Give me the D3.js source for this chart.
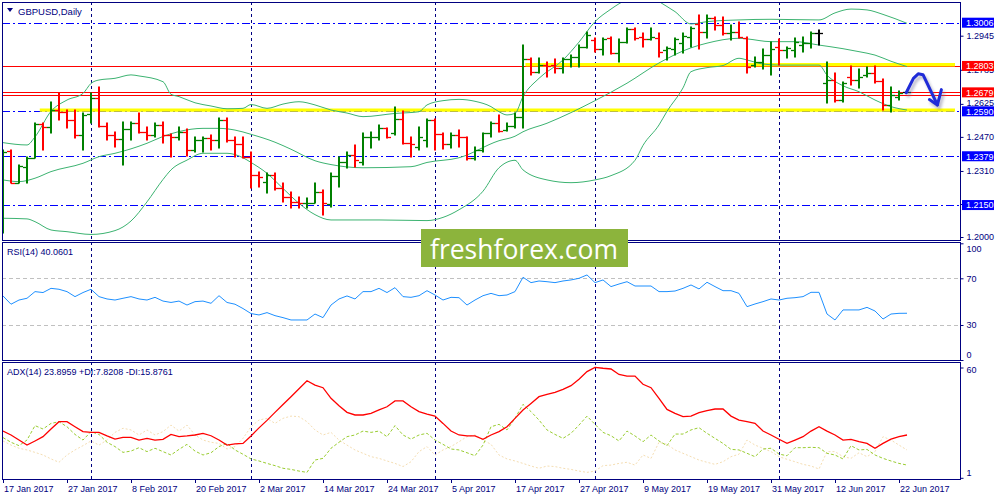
<!DOCTYPE html>
<html>
<head>
<meta charset="utf-8">
<script src="https://cdn.jsdelivr.net/npm/d3@7"></script>
<style>
  body { margin: 0; background: #fff; }
  svg { display: block; }
  text { font-family: "Liberation Sans", Arial, sans-serif; }
</style>
</head>
<body>
<div id="chart"></div>
<script>
// ---- price bars (daily, 17 Jan 2017 .. 23 Jun 2017) ----
const open = [
  1.2033,1.2405,1.2255,1.2330,1.2369,1.2530,1.2515,1.2596,1.2588,1.2549,
  1.2479,1.2576,1.2651,1.2521,1.2479,1.2459,1.2507,1.2534,1.2494,1.2479,
  1.2526,1.2479,1.2471,1.2494,1.2408,1.2455,1.2463,1.2455,1.2549,1.2455,
  1.2437,1.2377,1.2291,1.2260,1.2291,1.2228,1.2189,1.2166,1.2158,1.2161,
  1.2213,1.2155,1.2286,1.2354,1.2385,1.2354,1.2468,1.2471,1.2510,1.2487,
  1.2554,1.2443,1.2424,1.2455,1.2549,1.2484,1.2437,1.2479,1.2468,1.2369,
  1.2408,1.2487,1.2534,1.2502,1.2521,1.2562,1.2834,1.2776,1.2807,1.2807,
  1.2792,1.2834,1.2843,1.2894,1.2925,1.2881,1.2933,1.2865,1.2917,1.2975,
  1.2940,1.2928,1.2933,1.2878,1.2881,1.2909,1.2940,1.3001,1.2964,1.3027,
  1.2995,1.2956,1.2964,1.2933,1.2807,1.2823,1.2854,1.2894,1.2878,1.2878,
  1.2901,1.2909,1.2956,1.2724,1.2737,1.2643,1.2750,1.2737,1.2761,1.2768,
  1.2734,1.2620,1.2659,1.2679];
const high = [
  1.2408,1.2408,1.2338,1.2374,1.2534,1.2537,1.2632,1.2674,1.2596,1.2596,
  1.2580,1.2674,1.2703,1.2534,1.2494,1.2541,1.2541,1.2580,1.2518,1.2534,
  1.2541,1.2482,1.2518,1.2505,1.2471,1.2471,1.2479,1.2557,1.2557,1.2471,
  1.2468,1.2401,1.2307,1.2299,1.2299,1.2252,1.2213,1.2189,1.2182,1.2252,
  1.2221,1.2299,1.2377,1.2401,1.2432,1.2487,1.2494,1.2526,1.2513,1.2609,
  1.2593,1.2471,1.2518,1.2552,1.2552,1.2490,1.2490,1.2502,1.2471,1.2424,
  1.2490,1.2541,1.2573,1.2534,1.2580,1.2901,1.2839,1.2839,1.2823,1.2834,
  1.2839,1.2854,1.2901,1.2961,1.2933,1.2933,1.2937,1.2928,1.2980,1.2980,
  1.2956,1.2980,1.2956,1.2894,1.2933,1.2956,1.2987,1.3042,1.3042,1.3034,
  1.3034,1.2995,1.3011,1.2940,1.2847,1.2881,1.2917,1.2928,1.2894,1.2933,
  1.2940,1.2964,1.2972,1.2823,1.2768,1.2729,1.2803,1.2787,1.2799,1.2803,
  1.2740,1.2703,1.2687,1.2679];
const low = [
  1.2017,1.2252,1.2252,1.2252,1.2369,1.2408,1.2487,1.2549,1.2510,1.2463,
  1.2408,1.2534,1.2518,1.2455,1.2424,1.2338,1.2455,1.2487,1.2455,1.2471,
  1.2440,1.2377,1.2455,1.2380,1.2401,1.2401,1.2408,1.2416,1.2448,1.2377,
  1.2369,1.2228,1.2236,1.2205,1.2221,1.2166,1.2135,1.2135,1.2135,1.2158,
  1.2103,1.2142,1.2236,1.2322,1.2330,1.2338,1.2416,1.2455,1.2463,1.2479,
  1.2437,1.2377,1.2408,1.2424,1.2408,1.2412,1.2416,1.2424,1.2361,1.2361,
  1.2401,1.2471,1.2494,1.2499,1.2510,1.2510,1.2761,1.2768,1.2750,1.2768,
  1.2768,1.2800,1.2800,1.2886,1.2870,1.2854,1.2859,1.2823,1.2909,1.2925,
  1.2894,1.2925,1.2847,1.2831,1.2854,1.2862,1.2894,1.2881,1.2933,1.2972,
  1.2948,1.2925,1.2933,1.2768,1.2800,1.2787,1.2761,1.2807,1.2839,1.2847,
  1.2870,1.2886,1.2901,1.2628,1.2635,1.2635,1.2714,1.2698,1.2753,1.2721,
  1.2596,1.2588,1.2643,1.2679];
const close = [
  1.2401,1.2255,1.2335,1.2369,1.2530,1.2515,1.2596,1.2588,1.2549,1.2479,
  1.2573,1.2651,1.2521,1.2479,1.2459,1.2507,1.2534,1.2494,1.2479,1.2526,
  1.2479,1.2471,1.2494,1.2408,1.2455,1.2463,1.2455,1.2549,1.2455,1.2437,
  1.2377,1.2291,1.2283,1.2291,1.2228,1.2189,1.2166,1.2158,1.2161,1.2213,
  1.2158,1.2286,1.2354,1.2385,1.2361,1.2471,1.2471,1.2510,1.2471,1.2554,
  1.2443,1.2437,1.2471,1.2549,1.2484,1.2437,1.2479,1.2468,1.2369,1.2408,
  1.2487,1.2534,1.2499,1.2521,1.2562,1.2834,1.2776,1.2807,1.2803,1.2792,
  1.2834,1.2843,1.2894,1.2948,1.2881,1.2928,1.2865,1.2917,1.2975,1.2933,
  1.2928,1.2937,1.2870,1.2886,1.2928,1.2944,1.2980,1.2964,1.3027,1.2995,
  1.2956,1.2964,1.2937,1.2800,1.2823,1.2854,1.2881,1.2878,1.2886,1.2917,
  1.2909,1.2956,1.2956,1.2737,1.2643,1.2724,1.2737,1.2750,1.2768,1.2734,
  1.2620,1.2667,1.2677,1.2679];

// ---- Bollinger bands, read at [bar index, price] ----
const bbUpper = [[0,1.2443],[3,1.2432],[4,1.2470],[6,1.2590],[8,1.2643],[10,1.2674],[11,1.2721],[12,1.2737],[14,1.2745],[16,1.2761],[17,1.2756],[20,1.2729],[21,1.2670],[22,1.2659],[24,1.2630],[26,1.2615],[28,1.2602],[30,1.2604],[31,1.2622],[33,1.2604],[35,1.2624],[37,1.2635],[39,1.2620],[41,1.2596],[43,1.2582],[45,1.2565],[49,1.2580],[52,1.2588],[53,1.2620],[55,1.2640],[57,1.2646],[59,1.2637],[61,1.2612],[62,1.2588],[63,1.2573],[64,1.2580],[65,1.2659],[67,1.2745],[70,1.2831],[72,1.2915],[74,1.3011],[76,1.3070],[77,1.3095],[79,1.3130],[80,1.3140],[81,1.3130],[82,1.3105],[84,1.3058],[86,1.3000],[88,1.3011],[92,1.3019],[96,1.3022],[102,1.3019],[104,1.3052],[106,1.3070],[108,1.3066],[110,1.3045],[113,1.3003]];
const bbMiddle = [[0,1.2268],[2,1.2260],[4,1.2276],[6,1.2307],[10,1.2346],[12,1.2377],[14,1.2393],[18,1.2440],[20,1.2472],[22,1.2495],[25,1.2510],[27,1.2510],[29,1.2502],[31,1.2482],[34,1.2445],[36,1.2412],[39,1.2358],[41,1.2340],[45,1.2325],[51,1.2330],[53,1.2350],[57,1.2372],[62,1.2452],[64,1.2473],[65,1.2494],[68,1.2534],[71,1.2584],[74,1.2640],[78,1.2722],[82,1.2817],[86,1.2888],[88,1.2910],[92,1.2933],[93,1.2930],[96,1.2917],[99,1.2917],[102,1.2901],[105,1.2884],[107,1.2870],[109,1.2854],[111,1.2825],[113,1.2800]];
const bbLower = [[0,1.2088],[3,1.2085],[4,1.2072],[6,1.2033],[8,1.2025],[11,1.2012],[14,1.2030],[16,1.2075],[18,1.2165],[20,1.2270],[21,1.2315],[23,1.2361],[25,1.2393],[28,1.2393],[30,1.2372],[31,1.2350],[33,1.2299],[35,1.2228],[37,1.2158],[39,1.2105],[41,1.2080],[47,1.2080],[53,1.2077],[55,1.2092],[57,1.2128],[60,1.2215],[62,1.2325],[64,1.2360],[65,1.2315],[68,1.2268],[71,1.2255],[74,1.2268],[76,1.2288],[79,1.2360],[80,1.2430],[82,1.2526],[83,1.2590],[85,1.2700],[86,1.2776],[88,1.2795],[90,1.2805],[92,1.2839],[93,1.2831],[95,1.2812],[97,1.2807],[102,1.2807],[103,1.2760],[105,1.2710],[107,1.2682],[109,1.2643],[111,1.2612],[113,1.2596]];

// ---- indicators, one value per bar ----
const rsi = [
  54.9,47.8,51.4,52.9,58.6,57.8,61.4,60.6,58.6,54.3,
  57.8,60.6,54.3,52.3,51.4,52.9,54.3,52.3,51.4,53.7,
  50.5,49.3,50.5,47.1,50.0,50.5,48.6,55.1,49.3,47.8,
  44.1,39.8,38.6,40.6,38.0,36.3,34.3,34.3,34.3,39.4,
  36.3,47.1,52.3,54.9,52.3,58.6,58.6,61.4,57.8,62.0,
  54.3,53.7,55.1,59.4,55.7,51.4,53.7,53.4,47.1,51.4,
  55.1,57.1,55.1,55.7,58.6,70.9,66.3,67.7,67.1,66.3,
  67.7,68.6,70.0,72.9,66.3,68.6,62.9,65.1,67.1,63.4,
  63.4,63.4,58.6,58.6,59.1,61.4,64.3,60.9,66.6,62.9,
  59.4,59.4,57.1,45.7,48.0,50.0,52.3,51.4,52.9,53.4,
  54.3,58.0,58.0,39.4,34.3,42.9,42.9,42.9,45.1,42.0,
  35.1,39.4,40.0,40.06];
const adx = [
  26.0,23.9,21.2,18.5,20.7,23.0,27.1,31.0,31.0,28.3,
  25.7,25.3,25.3,23.4,21.7,22.6,22.6,21.2,22.1,21.2,
  21.6,24.2,23.0,23.4,23.9,24.8,23.5,21.2,18.5,19.1,
  19.4,23.4,27.7,31.7,36.0,40.2,44.4,48.6,52.9,50.6,
  49.2,43.5,39.6,36.0,34.6,34.6,35.5,37.3,39.0,42.1,
  42.1,39.0,36.4,35.1,34.0,30.1,26.0,23.9,23.4,23.4,
  21.6,23.9,25.7,28.3,32.8,37.3,40.8,44.4,45.6,46.7,
  48.3,50.3,53.7,57.8,60.1,59.6,59.2,56.3,55.4,55.4,
  51.0,49.2,43.5,37.6,35.5,33.7,34.0,35.8,36.9,37.8,
  37.8,34.0,31.9,31.0,30.1,26.0,23.9,21.6,19.4,21.2,
  23.0,26.0,28.3,26.0,23.9,21.2,21.6,20.3,19.4,16.8,
  19.4,21.7,23.0,23.9];
const plusDI = [
  22.5,20.0,18.2,21.2,28.9,27.1,30.1,31.0,28.3,24.2,
  21.2,25.7,24.2,20.0,17.7,14.6,15.3,17.1,15.0,16.8,
  15.0,13.2,16.2,18.9,15.3,13.2,14.4,17.7,19.4,15.9,
  13.6,11.1,10.0,8.7,7.5,6.1,5.5,4.6,3.9,10.5,
  11.4,16.8,20.0,23.0,23.9,26.0,25.3,26.0,23.0,28.9,
  23.9,21.7,23.9,24.8,21.2,18.9,16.4,15.9,14.4,12.8,
  18.5,28.3,29.6,26.6,32.8,40.3,36.4,31.9,26.6,24.2,
  22.1,24.8,29.2,34.0,29.6,25.3,23.5,20.7,26.0,23.4,
  20.3,23.9,20.7,18.2,24.4,24.4,26.6,27.8,24.8,22.1,
  19.4,16.2,15.9,14.1,12.3,16.4,16.8,13.7,12.8,17.1,
  17.1,17.3,17.1,14.1,13.2,11.1,18.2,15.9,16.2,13.2,
  11.4,10.0,8.7,7.82];
const minusDI = [
  20.7,18.5,16.8,15.9,14.6,13.2,11.1,9.3,13.2,15.9,
  18.2,20.7,18.5,21.2,25.3,27.5,26.6,23.9,26.6,23.9,
  25.7,29.2,26.0,29.2,23.9,21.2,20.0,19.4,16.4,17.7,
  22.1,28.3,31.9,32.8,30.1,32.8,34.0,33.7,31.0,26.6,
  23.9,25.3,21.2,18.5,15.9,14.1,12.3,11.4,10.0,8.7,
  7.0,9.6,15.0,17.7,13.2,15.9,17.7,20.3,23.0,23.9,
  21.2,18.9,13.2,11.1,10.0,8.7,7.3,6.1,7.3,7.0,
  6.1,5.5,4.6,3.9,4.6,7.5,7.8,8.7,9.3,7.8,
  13.2,11.4,20.0,18.9,15.9,14.1,12.3,10.5,9.3,8.2,
  9.6,12.3,13.6,21.2,18.5,16.8,15.0,12.3,10.9,9.6,
  8.2,7.3,5.7,15.0,15.0,12.3,11.4,14.4,12.3,15.0,
  23.0,21.2,18.5,15.88];

// ---- axis labels and drawn objects ----
const dateLabels = ["17 Jan 2017","27 Jan 2017","8 Feb 2017","20 Feb 2017","2 Mar 2017","14 Mar 2017","24 Mar 2017","5 Apr 2017","17 Apr 2017","27 Apr 2017","9 May 2017","19 May 2017","31 May 2017","12 Jun 2017","22 Jun 2017"];
const dateLabelIdx = [0,8,16,24,32,40,48,56,64,72,80,88,96,104,112];
const monthStartIdx = [11,31,54,74,97];
const priceTicks = [1.2945,1.2785,1.2625,1.2470,1.2310,1.2155,1.2000];
const blueLevels = [1.3006,1.2590,1.2379,1.2150];
const redLevels = [1.2803,1.2679,1.2666];
const yellowZones = [[1.2803,65.3,119],[1.2590,4.6,119]];   // [price, from bar, to bar]
const priceBoxes = [[1.3006,"blue"],[1.2803,"red"],[1.2679,"red"],[1.2590,"blue"],[1.2379,"blue"],[1.2150,"blue"]];
const arrowPath = [[112.9,1.2677],[113.8,1.2745],[114.4,1.2766],[115.0,1.2762],[116.8,1.2620]];
const arrowHead = [[115.8,1.2645],[116.8,1.2620],[117.3,1.2692]];
const rsiTicks = [100,70,30,0];
const adxTicks = [60,1];

const NAVY = "#000080";
const L = 2, R = 960;
const panels = { main: [2, 240], rsi: [242, 360], adx: [362, 479] };

const svg = d3.select("#chart").append("svg")
  .attr("width", 1000).attr("height", 500);

const defs = svg.append("defs");
defs.append("filter").attr("id", "soft").attr("x", "-20%").attr("y", "-200%").attr("width", "140%").attr("height", "500%")
  .append("feGaussianBlur").attr("stdDeviation", 1.4);
Object.entries(panels).forEach(([k, [t, b]]) => {
  defs.append("clipPath").attr("id", "clip-" + k)
    .append("rect").attr("x", L + 1).attr("y", t + 1).attr("width", R - L - 1).attr("height", b - t - 1);
});

// scales
const x = d3.scaleLinear().domain([0, 113]).range([3, 907]);
const yP = d3.scaleLinear().domain([1.2000, 1.3006]).range([237, 22.7]);
const yR = d3.scaleLinear().domain([0, 100]).range([360, 243.3]);
const yA = d3.scaleLinear().domain([1, 60]).range([477.8, 367.5]);
const px = v => Math.round(v) + 0.5;

// panel layers
const layer = {};
Object.keys(panels).forEach(k => {
  layer[k] = svg.append("g").attr("clip-path", `url(#clip-${k})`);
});

// month grid in every panel
Object.entries(panels).forEach(([k, [t, b]]) => {
  layer[k].selectAll(".vgrid").data(monthStartIdx).enter().append("line")
    .attr("x1", d => px(x(d))).attr("x2", d => px(x(d)))
    .attr("y1", t).attr("y2", b)
    .attr("stroke", NAVY).attr("stroke-width", 1).attr("stroke-dasharray", "3,3");
});

// ---------- main panel ----------
const m = layer.main;

m.selectAll(".blue").data(blueLevels).enter().append("line")
  .attr("x1", L).attr("x2", R)
  .attr("y1", d => px(yP(d))).attr("y2", d => px(yP(d)))
  .attr("stroke", "#0000ff").attr("stroke-dasharray", "8,3,2,3");

m.selectAll(".red").data(redLevels).enter().append("line")
  .attr("x1", L).attr("x2", R)
  .attr("y1", d => px(yP(d))).attr("y2", d => px(yP(d)))
  .attr("stroke", "#ff0000");

// yellow zones with soft shadow
m.selectAll(".yshadow").data(yellowZones).enter().append("line")
  .attr("x1", d => x(d[1])).attr("x2", d => x(d[2]))
  .attr("y1", d => yP(d[0]) + 3).attr("y2", d => yP(d[0]) + 3)
  .attr("stroke", "#8a8a8a").attr("stroke-width", 4).attr("opacity", 0.65)
  .attr("filter", "url(#soft)");
m.selectAll(".yellow").data(yellowZones).enter().append("line")
  .attr("x1", d => x(d[1])).attr("x2", d => x(d[2]))
  .attr("y1", d => yP(d[0]) - 1.2).attr("y2", d => yP(d[0]) - 1.2)
  .attr("stroke", "#ffff00").attr("stroke-width", 3.4);

// bollinger bands
const bbLine = d3.line().x(d => x(d[0])).y(d => yP(d[1])).curve(d3.curveMonotoneX);
[bbUpper, bbMiddle, bbLower].forEach(band => {
  m.append("path").attr("d", bbLine(band))
    .attr("fill", "none").attr("stroke", "#3cb371").attr("stroke-width", 1);
});

// OHLC bars
const barColor = i => close[i] > open[i] ? "#008000" : (close[i] < open[i] ? "#ff0000" : "#000000");
const bars = m.selectAll(".bar").data(d3.range(open.length)).enter().append("g")
  .attr("stroke", barColor);
bars.append("line")
  .attr("x1", i => Math.round(x(i))).attr("x2", i => Math.round(x(i)))
  .attr("y1", i => Math.round(yP(high[i])) - 0.5).attr("y2", i => Math.round(yP(low[i])) + 0.5)
  .attr("stroke-width", 2);
bars.append("line")
  .attr("x1", i => Math.round(x(i)) - 4).attr("x2", i => Math.round(x(i)))
  .attr("y1", i => px(yP(open[i]))).attr("y2", i => px(yP(open[i])))
  .attr("stroke-width", 1.3);
bars.append("line")
  .attr("x1", i => Math.round(x(i))).attr("x2", i => Math.round(x(i)) + 4)
  .attr("y1", i => px(yP(close[i]))).attr("y2", i => px(yP(close[i])))
  .attr("stroke-width", 1.3);

// hand drawn arrow
const arrowLine = d3.line().x(d => x(d[0])).y(d => yP(d[1]));
[[2, 3, "#7a7a9a", 0.55, "url(#soft)"], [0, 0, "#1f2bd8", 1, null]].forEach(([dx, dy, col, op, f]) => {
  const g = m.append("g").attr("transform", `translate(${dx},${dy})`).attr("opacity", op);
  if (f) g.attr("filter", f);
  [arrowPath, arrowHead].forEach(pts => {
    g.append("path").attr("d", arrowLine(pts)).attr("fill", "none")
      .attr("stroke", col).attr("stroke-width", 3)
      .attr("stroke-linejoin", "round").attr("stroke-linecap", "round");
  });
});

// ---------- RSI panel ----------
const r = layer.rsi;
r.selectAll(".lvl").data([70, 30]).enter().append("line")
  .attr("x1", L).attr("x2", R)
  .attr("y1", d => px(yR(d))).attr("y2", d => px(yR(d)))
  .attr("stroke", "#c0c0c0").attr("stroke-dasharray", "4,3");
r.append("path")
  .attr("d", d3.line().x((d, i) => x(i)).y(d => yR(d))(rsi))
  .attr("fill", "none").attr("stroke", "#1e90ff").attr("stroke-width", 1);

// ---------- ADX panel ----------
const a = layer.adx;
const adxLine = d3.line().x((d, i) => x(i)).y(d => yA(d));
a.append("path").attr("d", adxLine(minusDI))
  .attr("fill", "none").attr("stroke", "#f5deb3").attr("stroke-width", 1).attr("stroke-dasharray", "2,2");
a.append("path").attr("d", adxLine(plusDI))
  .attr("fill", "none").attr("stroke", "#9acd32").attr("stroke-width", 1).attr("stroke-dasharray", "3,2");
a.append("path").attr("d", adxLine(adx))
  .attr("fill", "none").attr("stroke", "#ff0000").attr("stroke-width", 1.3);

// ---------- frames ----------
Object.values(panels).forEach(([t, b]) => {
  svg.append("rect").attr("x", L + 0.5).attr("y", t + 0.5)
    .attr("width", R - L).attr("height", b - t)
    .attr("fill", "none").attr("stroke", NAVY).attr("stroke-width", 1);
});

// ---------- right axes ----------
function styleAxis(g) {
  g.select(".domain").remove();
  g.selectAll("line").attr("stroke", NAVY);
  g.selectAll("text").attr("fill", NAVY).style("font-size", "9px")
    .style("font-family", '"Liberation Sans", Arial, sans-serif');
}
svg.append("g").attr("transform", `translate(${R + 0.5},0)`)
  .call(d3.axisRight(yP).tickValues(priceTicks).tickSize(3).tickPadding(3).tickFormat(d3.format(".4f")))
  .call(styleAxis)
  .selectAll("text").attr("dy", d => d === 1.2625 ? "0.18em" : "0.32em");

const boxes = svg.selectAll(".pbox").data(priceBoxes).enter().append("g")
  .attr("transform", d => `translate(962,${yP(d[0])})`);
boxes.append("rect").attr("x", 0).attr("y", -5).attr("width", 32).attr("height", 10)
  .attr("fill", d => d[1] === "blue" ? "#0000ff" : "#ff0000");
boxes.append("text").attr("x", 4).attr("y", 3.3)
  .attr("fill", "#ffffff").style("font-size", "9px")
  .text(d => d[0].toFixed(4));

svg.append("g").attr("transform", `translate(${R + 0.5},0)`)
  .call(d3.axisRight(yR).tickValues(rsiTicks).tickSize(3).tickPadding(3))
  .call(styleAxis)
  .selectAll("text").attr("dy", d => d === 100 ? "0.95em" : (d === 0 ? "-0.3em" : "0.32em"));

svg.append("g").attr("transform", `translate(${R + 0.5},0)`)
  .call(d3.axisRight(yA).tickValues(adxTicks).tickSize(3).tickPadding(3))
  .call(styleAxis)
  .selectAll("text").attr("dy", d => d === 60 ? "0.6em" : "-0.25em");

// ---------- date axis ----------
const dates = svg.selectAll(".dl").data(dateLabelIdx).enter().append("g")
  .attr("transform", d => `translate(${px(x(d))},0)`);
dates.append("line").attr("y1", 479).attr("y2", 483).attr("stroke", NAVY);
dates.append("text").attr("x", 0.5).attr("y", 492)
  .attr("fill", NAVY).style("font-size", "9px")
  .text((d, i) => dateLabels[i]);

// ---------- captions ----------
svg.append("path").attr("d", "M7,8 L13,8 L10,12 Z").attr("fill", NAVY);
svg.append("text").attr("x", 18).attr("y", 14.5).attr("fill", NAVY)
  .style("font-size", "9.5px").text("GBPUSD,Daily");
svg.append("text").attr("x", 7).attr("y", 255).attr("fill", NAVY)
  .style("font-size", "9px").text("RSI(14) 40.0601");
svg.append("text").attr("x", 7).attr("y", 374.5).attr("fill", NAVY)
  .style("font-size", "9px").text("ADX(14) 23.8959 +DI:7.8208 -DI:15.8761");

// ---------- watermark ----------
svg.append("rect").attr("x", 421).attr("y", 229).attr("width", 207).attr("height", 38)
  .attr("fill", "#8cb43c");
svg.append("text").attr("x", 430).attr("y", 258.5)
  .attr("fill", "#ffffff").attr("textLength", 188).attr("lengthAdjust", "spacingAndGlyphs")
  .style("font-family", '"Open Sans", "Noto Sans", sans-serif').style("font-size", "28px")
  .text("freshforex.com");
</script>
</body>
</html>
